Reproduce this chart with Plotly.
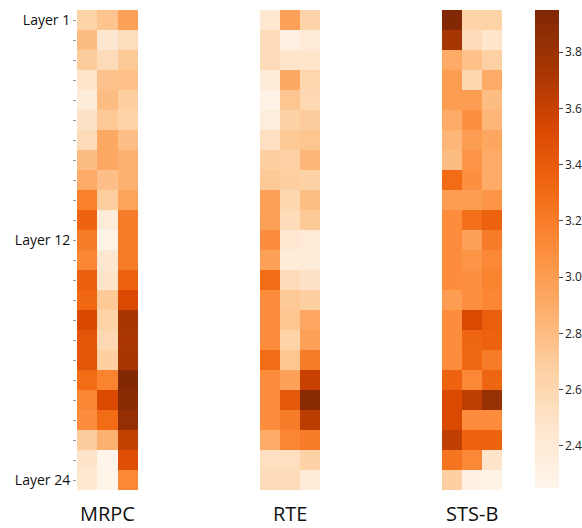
import plotly.graph_objects as go

layers = list(range(1, 25))
tasks = ["MRPC", "RTE", "STS-B"]

mrpc = [
    [2.65, 2.75, 2.97],
    [2.80, 2.45, 2.55],
    [2.70, 2.57, 2.72],
    [2.47, 2.76, 2.77],
    [2.38, 2.80, 2.68],
    [2.50, 2.72, 2.65],
    [2.57, 2.92, 2.78],
    [2.80, 2.92, 2.87],
    [2.91, 2.78, 2.87],
    [3.17, 2.69, 2.95],
    [3.35, 2.38, 3.20],
    [3.20, 2.28, 3.20],
    [3.15, 2.45, 3.20],
    [3.37, 2.48, 3.36],
    [3.32, 2.72, 3.52],
    [3.53, 2.65, 3.74],
    [3.44, 2.60, 3.72],
    [3.44, 2.68, 3.74],
    [3.30, 3.16, 3.93],
    [3.15, 3.52, 3.90],
    [3.10, 3.30, 3.84],
    [2.70, 2.87, 3.62],
    [2.48, 2.26, 3.48],
    [2.43, 2.27, 3.13],
]

rte = [
    [2.43, 2.97, 2.64],
    [2.57, 2.33, 2.40],
    [2.57, 2.47, 2.47],
    [2.38, 2.92, 2.62],
    [2.29, 2.74, 2.60],
    [2.37, 2.66, 2.70],
    [2.53, 2.72, 2.74],
    [2.68, 2.67, 2.84],
    [2.72, 2.68, 2.66],
    [2.97, 2.61, 2.79],
    [2.98, 2.56, 2.72],
    [3.10, 2.43, 2.40],
    [2.97, 2.38, 2.39],
    [3.30, 2.57, 2.50],
    [3.10, 2.72, 2.68],
    [3.10, 2.74, 2.93],
    [3.10, 2.65, 2.97],
    [3.30, 2.74, 3.20],
    [3.10, 2.97, 3.60],
    [3.10, 3.42, 3.90],
    [3.10, 3.20, 3.65],
    [2.91, 3.15, 3.20],
    [2.53, 2.53, 2.66],
    [2.57, 2.57, 2.38],
]

stsb = [
    [3.93, 2.65, 2.65],
    [3.74, 2.57, 2.47],
    [2.91, 2.77, 2.67],
    [3.00, 2.61, 2.91],
    [3.00, 3.00, 2.80],
    [2.91, 3.08, 2.84],
    [2.84, 3.00, 2.94],
    [2.80, 3.05, 2.91],
    [3.30, 3.08, 2.91],
    [3.00, 3.00, 3.05],
    [3.10, 3.28, 3.36],
    [3.10, 2.97, 3.20],
    [3.10, 3.05, 3.13],
    [3.10, 3.08, 3.16],
    [3.00, 3.08, 3.14],
    [3.10, 3.52, 3.38],
    [3.10, 3.33, 3.36],
    [3.10, 3.32, 3.20],
    [3.35, 3.13, 3.33],
    [3.52, 3.64, 3.82],
    [3.52, 3.10, 3.10],
    [3.63, 3.35, 3.35],
    [3.25, 3.13, 2.48],
    [2.68, 2.32, 2.29],
]

zmin, zmax = 2.25, 3.95
colorbar_ticks = [2.4, 2.6, 2.8, 3.0, 3.2, 3.4, 3.6, 3.8]
ytick_labels = {1: "Layer 1", 12: "Layer 12", 24: "Layer 24"}

W, H = 582, 528
domains_px = [(77, 138), (260, 320), (442, 502)]
top_px, bot_px = 10, 490
cb_top, cb_bot = 10, 488

fig = go.Figure()
for i, (name, data) in enumerate(zip(tasks, [mrpc, rte, stsb])):
    ax = "" if i == 0 else str(i + 1)
    fig.add_trace(go.Heatmap(
        z=data, x=[0, 1, 2], y=layers,
        coloraxis="coloraxis",
        xaxis="x" + ax, yaxis="y" + ax,
        xgap=0, ygap=0,
        hovertemplate=name + " layer %{y}<br>%{z:.2f}<extra></extra>",
    ))

layout = dict(
    width=W, height=H,
    margin=dict(l=0, r=0, t=0, b=0),
    paper_bgcolor="white", plot_bgcolor="white",
    font=dict(family="Open Sans, Noto Sans, sans-serif", color="#222"),
    coloraxis=dict(
        colorscale="Oranges", cmin=zmin, cmax=zmax,
        colorbar=dict(
            x=535 / W, xanchor="left", thickness=24, xpad=0, ypad=0,
            lenmode="fraction", len=(cb_bot - cb_top) / H,
            y=1 - ((cb_top + cb_bot) / 2) / H, yanchor="middle",
            outlinewidth=0,
            tickvals=colorbar_ticks,
            ticktext=[f"{v:.1f}" for v in colorbar_ticks],
            ticks="outside", ticklen=4, tickcolor="#444",
            tickfont=dict(size=12, color="#222"),
        ),
    ),
    showlegend=False,
)

annotations = []
for i, (x0, x1) in enumerate(domains_px):
    ax = "" if i == 0 else str(i + 1)
    layout["xaxis" + ax] = dict(
        domain=[x0 / W, x1 / W], range=[-0.5, 2.5],
        showticklabels=False, ticks="", showgrid=False, zeroline=False,
        anchor="y" + ax, fixedrange=True,
    )
    ycfg = dict(
        domain=[1 - bot_px / H, 1 - top_px / H], range=[24.5, 0.5],
        showgrid=False, zeroline=False, anchor="x" + ax,
        automargin=False, fixedrange=True,
    )
    if i == 0:
        ycfg.update(
            tickvals=layers,
            ticktext=[ytick_labels.get(l, "") for l in layers],
            ticks="outside", ticklen=3, tickcolor="#999", tickwidth=1,
            tickfont=dict(size=14, color="#111"),
        )
    else:
        ycfg.update(showticklabels=False, ticks="")
    layout["yaxis" + ax] = ycfg
    annotations.append(dict(
        text=tasks[i], xref="paper", yref="paper",
        x=(x0 + x1) / 2 / W, y=0,
        xanchor="center", yanchor="bottom", showarrow=False,
        borderpad=0,
        font=dict(size=20, color="#111"),
    ))
layout["annotations"] = annotations
fig.update_layout(**layout)

fig.write_html(
    "out.html",
    config={"displayModeBar": False},
    post_script="document.body.style.margin='0';document.body.style.overflow='hidden';",
)
